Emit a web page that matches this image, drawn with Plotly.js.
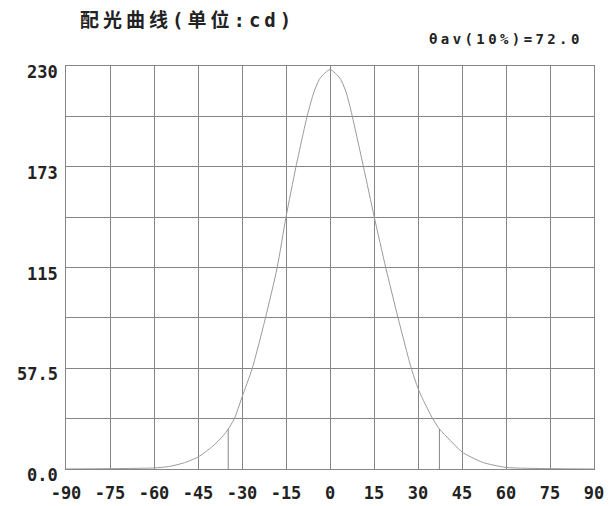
<!DOCTYPE html>
<html>
<head>
<meta charset="utf-8">
<script src="https://cdn.plot.ly/plotly-3.0.1.min.js"></script>
<style>html,body{margin:0;padding:0;background:#fff;}#chart{width:616px;height:506px;}</style>
</head>
<body>
<div id="chart"></div>
<script>
// Light distribution curve (candela vs angle)
const angles = [-90,-75,-60,-55,-50,-45,-40,-36.4,-34.7,-32.6,-30,-26.5,-22,-18,-15,-11.6,-7.7,-5.5,-3.4,0,3.4,5.5,7.5,11.4,15.1,19,23.2,27.7,30,31.6,35,37.3,41,45,52,60,75,90];
const intensity = [0,0.2,0.6,1.4,3.4,6.8,13,19,22.8,28.75,41,57.5,86.25,115,143.75,172.5,202,215,223,228,223,215,202,172.5,143.75,115,86.25,57.5,46,40,28.75,22.8,16.3,9.7,3.8,0.9,0.2,0];
// 10% beam angle markers
const tenPctAngles = [-34.7, 37.3];
const tenPctValue = 22.8;
const xTicks = [-90,-75,-60,-45,-30,-15,0,15,30,45,60,75,90];
const yGrid = [0,28.75,57.5,86.25,115,143.75,172.5,201.25,230];
const yLabelVals = [0,57.5,115,172.5,230];
const yLabelText = ['0.0','57.5','115','173','230'];
const titleText = '配光曲线(单位:cd)';
const beamText = 'θav(10%)=72.0';

const gridColor = '#858585';
const mono = 'DejaVu Sans Mono, Liberation Mono, monospace';

const traces = [{
  x: angles, y: intensity, type: 'scatter', mode: 'lines',
  line: {color: '#9a9a9a', width: 1, shape: 'spline', smoothing: 0.6},
  hoverinfo: 'skip', showlegend: false
}];
tenPctAngles.forEach(a => traces.push({
  x: [a, a], y: [0, tenPctValue], type: 'scatter', mode: 'lines',
  line: {color: gridColor, width: 1}, showlegend: false, hoverinfo: 'skip'
}));

const annotations = yLabelVals.map((v, i) => ({
  xref: 'paper', yref: 'y', x: 0, y: v, xanchor: 'right', yanchor: 'middle',
  xshift: -6, yshift: -6, text: '<b>' + yLabelText[i] + '</b>', showarrow: false,
  font: {family: mono, size: 17, color: '#222'}
}));
annotations.push({
  xref: 'paper', yref: 'paper', x: 0.6837, y: 1, xanchor: 'left', yanchor: 'middle', align: 'left',
  yshift: 27, text: '<b>' + beamText + '</b>', showarrow: false,
  font: {family: mono, size: 14, color: '#222'}
});
annotations.push({
  xref: 'paper', yref: 'paper', x: 0, y: 1, xanchor: 'left', yanchor: 'middle', align: 'left',
  xshift: 12, yshift: 46, text: '<b>' + titleText + '</b>', showarrow: false,
  font: {family: 'DejaVu Sans Mono, Noto Sans CJK SC', size: 19, color: '#222'}
});

const layout = {
  width: 616, height: 506,
  margin: {l: 66, r: 22, t: 66, b: 36.5},
  paper_bgcolor: '#fff', plot_bgcolor: '#fff',
  showlegend: false,
  xaxis: {
    range: [-90, 90], tickvals: xTicks, ticktext: xTicks.map(String),
    showgrid: true, gridcolor: gridColor, gridwidth: 1,
    zeroline: false, showline: true, linecolor: gridColor, linewidth: 1, mirror: true,
    ticks: '', ticklabelstandoff: 9,
    tickfont: {family: mono, size: 17, color: '#222', weight: 'bold'}
  },
  yaxis: {
    range: [0, 230], tickvals: yGrid, showticklabels: false,
    showgrid: true, gridcolor: gridColor, gridwidth: 1,
    zeroline: false, showline: true, linecolor: gridColor, linewidth: 1, mirror: true,
    ticks: ''
  },
  annotations: annotations
};
Plotly.newPlot('chart', traces, layout, {staticPlot: true, displayModeBar: false}).then(() => {
  const spacing = {5: '3.4px', 6: '4px'};
  Object.keys(spacing).forEach(k => {
    document.querySelectorAll('.annotation[data-index="' + k + '"] text').forEach(t => {
      t.style.letterSpacing = spacing[k];
    });
  });
});
</script>
</body>
</html>
